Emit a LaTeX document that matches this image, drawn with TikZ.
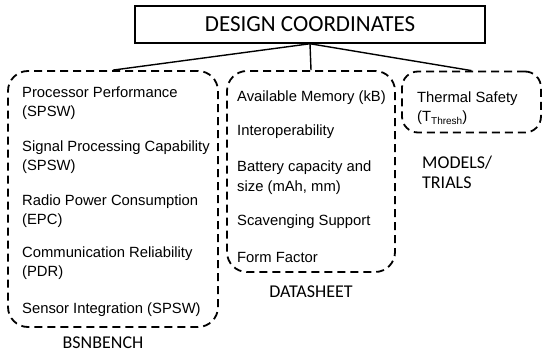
\documentclass[tikz,border=0pt]{standalone}
\usepackage{fontspec}
\setmainfont{Liberation Sans}
\newfontfamily\calibri{Carlito}
\usetikzlibrary{positioning}

\begin{document}
\begin{tikzpicture}[
        x=1pt, y=-1pt,
        title_box/.style={draw, rectangle, line width=1.5pt, inner sep=0pt, minimum width=350pt, minimum height=37pt, font=\calibri\fontsize{23}{27}\selectfont},
        group_box/.style={draw, rectangle, dashed, line width=1.8pt, dash pattern=on 8pt off 5pt, rounded corners=20pt, inner sep=0pt},
        item/.style={anchor=west, align=left, inner sep=0pt, font=\fontsize{14.8}{19.5}\selectfont},
        caption/.style={inner sep=0pt, align=left, font=\calibri\fontsize{18}{20}\selectfont},
        link/.style={line width=1.4pt}
    ]
        \useasboundingbox (0,0) rectangle (544,356);

        \node[title_box] (design) at (310,24.5) {DESIGN COORDINATES};

        % the three groups
        \node[group_box, minimum width=210pt, minimum height=256pt] (bench) at (113,199) {};
        \node[group_box, minimum width=168pt, minimum height=201pt] (sheet) at (311,171.5) {};
        \node[group_box, minimum width=139pt, minimum height=61pt, rounded corners=16pt] (trials) at (471.5,102) {};

        \draw[link] (design.south) -- (bench.north);
        \draw[link] (design.south) -- (sheet.north);
        \draw[link] (design.south) -- (trials.north);

        % benchmark metrics
        \node[item] (proc) at (22,103) {Processor Performance\\(SPSW)};
        \node[item] (signal) at (22,157) {Signal Processing Capability\\(SPSW)};
        \node[item] (radio) at (22,211) {Radio Power Consumption\\(EPC)};
        \node[item] (comm) at (22,263) {Communication Reliability\\(PDR)};
        \node[item] (sensor) at (22,310) {Sensor Integration (SPSW)};

        % datasheet metrics
        \node[item] (memory) at (237,98) {Available Memory (kB)};
        \node[item] (interop) at (237,132) {Interoperability};
        \node[item] (battery) at (237,177.5) {Battery capacity and\\size (mAh, mm)};
        \node[item] (scav) at (237,222) {Scavenging Support};
        \node[item] (form) at (237,257) {Form Factor};

        \node[item] (thermal) at (417,108) {Thermal Safety\\(T\raisebox{-2.5pt}{\fontsize{10}{10}\selectfont Thresh})};

        \node[caption] (benchlabel) at (103,343) {BSNBENCH};
        \node[caption] (sheetlabel) at (311,292) {DATASHEET};
        \node[caption, anchor=west] (trialslabel) at (422,172) {MODELS/\\TRIALS};
    \end{tikzpicture}
\end{document}
